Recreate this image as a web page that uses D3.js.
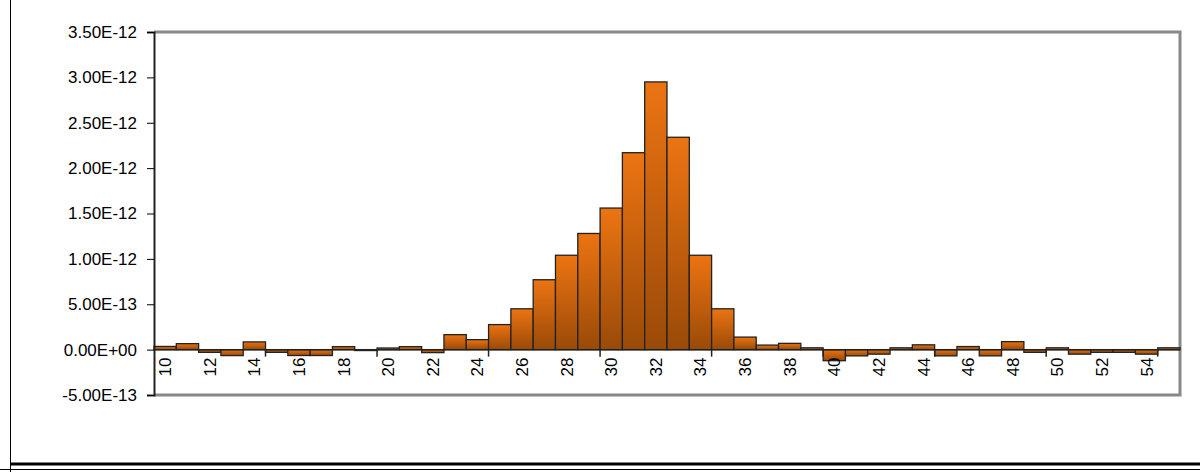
<!DOCTYPE html><html><head><meta charset="utf-8"><script src="https://cdn.jsdelivr.net/npm/d3@7"></script>
<style>body{margin:0;background:#fff}text{font-family:"Liberation Sans",Arial,sans-serif}</style></head><body>
<svg id="c" width="1200" height="472"></svg>
<script>
const categories=d3.range(10,56);
const values=[3.5e-14,6.6e-14,-3e-14,-6.6e-14,8.5e-14,-3e-14,-6.5e-14,-6.5e-14,3.3e-14,-1e-14,
1.8e-14,3.3e-14,-3.3e-14,1.65e-13,1.1e-13,2.76e-13,4.5e-13,7.7e-13,1.04e-12,1.28e-12,
1.56e-12,2.17e-12,2.95e-12,2.34e-12,1.04e-12,4.5e-13,1.38e-13,5e-14,6.9e-14,2e-14,
-1.22e-13,-6.9e-14,-5e-14,2e-14,5.3e-14,-6.9e-14,3.4e-14,-6.9e-14,8.8e-14,-3e-14,
2e-14,-5e-14,-3e-14,-3e-14,-5e-14,2e-14];
const yTicks=[-5e-13,0,5e-13,1e-12,1.5e-12,2e-12,2.5e-12,3e-12,3.5e-12];
const yLabels=["-5.00E-13","0.00E+00","5.00E-13","1.00E-12","1.50E-12","2.00E-12","2.50E-12","3.00E-12","3.50E-12"];
const svg=d3.select("#c");
const L=154,R=1180,T=32,B=395;
const x=d3.scaleBand().domain(categories).range([L,R]).padding(0);
const y=d3.scaleLinear().domain([-5e-13,3.5e-12]).range([B,T]);
const g=svg.append("defs").append("linearGradient").attr("id","gr").attr("x1",0).attr("y1",0).attr("x2",0).attr("y2",1);
g.append("stop").attr("offset","0%").attr("stop-color","#ec7412");
g.append("stop").attr("offset","100%").attr("stop-color","#9a4a08");
// outer lines
svg.append("line").attr("x1",10.5).attr("x2",10.5).attr("y1",0).attr("y2",472).attr("stroke","#000");
svg.append("line").attr("x1",10).attr("x2",1200).attr("y1",464).attr("y2",464).attr("stroke","#000").attr("stroke-width",3);
svg.append("line").attr("x1",0).attr("x2",1200).attr("y1",469.5).attr("y2",469.5).attr("stroke","#000");
// frame
svg.append("path").attr("d",`M${L},${T}H${R}V${B}H${L}`).attr("fill","none").attr("stroke","#888").attr("stroke-width",3);
// bars
svg.selectAll("rect.b").data(categories).join("rect").attr("class","b")
 .attr("x",d=>x(d)).attr("width",x.bandwidth())
 .attr("y",(d,i)=>y(Math.max(0,values[i]))).attr("height",(d,i)=>Math.abs(y(values[i])-y(0)))
 .attr("fill","url(#gr)").attr("stroke","#222").attr("stroke-width",1.3);
// y axis
const ya=svg.append("g").attr("transform",`translate(${L},0)`)
 .call(d3.axisLeft(y).tickValues(yTicks).tickFormat((d,i)=>yLabels[i]).tickSize(7).tickPadding(10));
ya.select(".domain").attr("stroke","#222").attr("stroke-width",2);
ya.selectAll("text").attr("font-size",17).attr("fill","#000").style("font-family","Liberation Sans, Arial");
// zero line / x axis
svg.append("line").attr("x1",L).attr("x2",R).attr("y1",y(0)).attr("y2",y(0)).attr("stroke","#222").attr("stroke-width",1.5);
categories.forEach((c,i)=>{ if(i%5===4){const xx=x(c)+x.bandwidth();svg.append("line").attr("x1",xx).attr("x2",xx).attr("y1",y(0)).attr("y2",y(0)+7).attr("stroke","#222").attr("stroke-width",1.5);}});
svg.selectAll("text.xl").data(categories.filter(c=>c%2===0)).join("text").attr("class","xl")
 .attr("transform",d=>`translate(${x(d)+x.bandwidth()/2+6},${y(0)+8}) rotate(-90)`)
 .attr("text-anchor","end").attr("font-size",17).text(d=>d);
</script></body></html>
